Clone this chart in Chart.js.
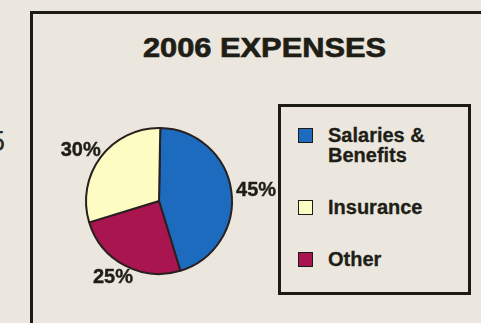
<!DOCTYPE html>
<html>
<head>
<meta charset="utf-8">
<script src="https://cdn.jsdelivr.net/npm/chart.js@4/dist/chart.umd.min.js"></script>
<style>
  html, body { margin: 0; padding: 0; }
  body {
    width: 481px; height: 323px; overflow: hidden; position: relative;
    background: #ebe7df; color: #1e1e16;
    font-family: "Liberation Sans", Arial, sans-serif;
  }
  .edge { position: absolute; left: -11px; top: 127px; font-size: 29px; line-height: 29px; color: #2a2a22; }
  .frame {
    position: absolute; left: 30px; top: 11px; width: 480px; height: 340px;
    border: 3px solid #1c1c14; box-sizing: border-box;
  }
  .title {
    position: absolute; left: 0; top: 34px; width: 529px; text-align: center;
    font-size: 28px; line-height: 28px; font-weight: bold;
    -webkit-text-stroke: 0.7px #1e1e16;
    transform: scaleX(1.1); transform-origin: 264.5px 0;
  }
  #legend {
    position: absolute; left: 278px; top: 104px; width: 193px; height: 191px;
    border: 3px solid #1c1c14; box-sizing: border-box; padding-top: 18px;
  }
  .item { display: flex; align-items: flex-start; margin-bottom: 32px; }
  .swatch {
    width: 15px; height: 15px; margin: 3px 0 0 17px; flex: none;
    border: 1.5px solid #1c1c14; box-sizing: border-box;
  }
  .label {
    margin-left: 15px; width: 130px; font-size: 20px; line-height: 20px; font-weight: bold;
    -webkit-text-stroke: 0.3px #1e1e16;
  }
  canvas { position: absolute; left: 0; top: 0; pointer-events: none; }
</style>
</head>
<body>
<div class="edge">5</div>
<div class="frame"></div>
<div class="title">2006 EXPENSES</div>
<div id="legend"></div>
<canvas id="pie" width="481" height="323"></canvas>
<script>
// slices in clockwise order from the top
const categories = ['Salaries & Benefits', 'Other', 'Insurance'];
const shares = [45, 25, 30];
const sliceColors = ['#1c6bbf', '#a8154f', '#fdfcc2'];
// order the key lists them in
const legendOrder = ['Salaries & Benefits', 'Insurance', 'Other'];

// percent labels just outside each slice, box edge a few px off the rim
const sliceLabels = {
  id: 'sliceLabels',
  afterDatasetsDraw(chart) {
    const ctx = chart.ctx;
    const meta = chart.getDatasetMeta(0);
    ctx.save();
    ctx.font = 'bold 20px "Liberation Sans", Arial, sans-serif';
    ctx.fillStyle = '#1e1e16';
    ctx.strokeStyle = '#1e1e16';
    ctx.lineWidth = 0.4;
    ctx.textAlign = 'center';
    ctx.textBaseline = 'middle';
    meta.data.forEach((arc, i) => {
      const p = arc.getProps(['x', 'y', 'startAngle', 'endAngle', 'outerRadius'], true);
      const mid = (p.startAngle + p.endAngle) / 2;
      const text = shares[i] + '%';
      const w = ctx.measureText(text).width, h = 15;
      const ux = Math.cos(mid), uy = Math.sin(mid);
      const d = p.outerRadius + 5;
      const x = p.x + ux * d + ux * w / 2;
      const y = p.y + uy * d + uy * h / 2 + 1;
      ctx.fillText(text, x, y);
      ctx.strokeText(text, x, y);
    });
    ctx.restore();
  }
};

const chart = new Chart(document.getElementById('pie'), {
  type: 'pie',
  data: {
    labels: categories,
    datasets: [{
      data: shares,
      backgroundColor: sliceColors,
      borderColor: '#2a2020',
      borderWidth: 2
    }]
  },
  options: {
    responsive: false,
    animation: false,
    rotation: 1,
    radius: 73,
    layout: { padding: { left: 80, right: 243, top: 130, bottom: 51 } },
    plugins: { legend: { display: false }, tooltip: { enabled: false } }
  },
  plugins: [sliceLabels]
});

// key box built from the chart's own data
const legend = document.getElementById('legend');
legendOrder.forEach(name => {
  const i = chart.data.labels.indexOf(name);
  const item = document.createElement('div');
  item.className = 'item';
  const sw = document.createElement('div');
  sw.className = 'swatch';
  sw.style.background = chart.data.datasets[0].backgroundColor[i];
  const txt = document.createElement('div');
  txt.className = 'label';
  txt.textContent = name;
  item.append(sw, txt);
  legend.appendChild(item);
});
</script>
</body>
</html>
